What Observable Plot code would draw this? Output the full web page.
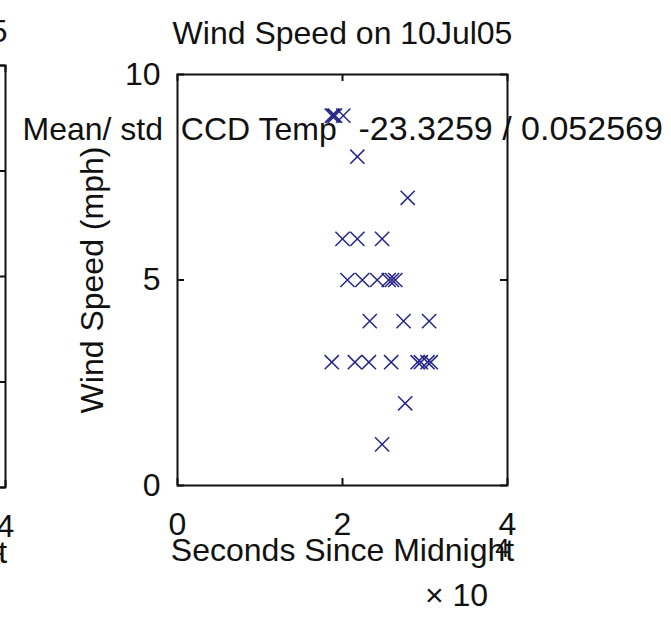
<!DOCTYPE html>
<html>
<head>
<meta charset="utf-8">
<script src="https://cdn.jsdelivr.net/npm/d3@7"></script>
<script src="https://cdn.jsdelivr.net/npm/@observablehq/plot@0.6"></script>
<style>
  html, body { margin: 0; padding: 0; background: #fff; }
  #fig { position: relative; width: 671px; height: 636px; overflow: hidden; background: #fff; }
  #fig svg { position: absolute; top: 0; }
</style>
</head>
<body>
<div id="fig"></div>
<script>
// Wind speed readings for 10 Jul 2005 (time in seconds since midnight, speed in mph)
const date = "10Jul05";
const title = `Wind Speed on ${date}`;
const xLabel = "Seconds Since Midnight";
const yLabel = "Wind Speed (mph)";
const xExponentBase = "× 10";
const xExponent = "4";
const xTicks = [0, 20000, 40000];
const yTicks = [0, 5, 10];
const neighbourYTicks = [0, 1, 2, 3, 4];

const seconds = [
  18700, 18900, 19100, 20100,
  21800,
  27900,
  20000, 21800, 24800,
  20600, 22400, 24200, 25600, 26000, 26400,
  23300, 27400, 30500,
  18700, 21500, 23200, 25900, 29100, 29500, 30300, 30700,
  27600,
  24800
];
const windMph = [
  9, 9, 9, 9,
  8,
  7,
  6, 6, 6,
  5, 5, 5, 5, 5, 5,
  4, 4, 4,
  3, 3, 3, 3, 3, 3, 3, 3,
  2,
  1
];

// CCD temperature statistics printed across the figure
const ccdTempMean = -23.3259;
const ccdTempStd = 0.052569;

const points = seconds.map((t, i) => ({t, mph: windMph[i]}));

const W = 671, H = 636;
const font = "'Liberation Sans', Arial, Helvetica, sans-serif";
const fs = 32;
const ink = "#111";
const tickLen = 7;

// One MATLAB-style subplot: boxed axes with inward ticks on all sides
function subplot({frame, yDomain, yTickValues, data, titleText, titleAnchor, labelShift = 0, extra = []}) {
  const innerW = frame.right - frame.left;
  const innerH = frame.bottom - frame.top;
  const mid = {lineAnchor: "middle", fill: ink};
  const marks = [
    Plot.axisX({ticks: xTicks, tickSize: 0, tickPadding: 27, tickFormat: d => d / 1e4, label: null}),
    Plot.axisY({ticks: yTickValues, tickSize: 0, tickPadding: 17, label: null}),
    Plot.tickX(xTicks, {x: d => d, insetBottom: innerH - tickLen, stroke: ink, strokeWidth: 2}),
    Plot.tickX(xTicks, {x: d => d, insetTop: innerH - tickLen, stroke: ink, strokeWidth: 2}),
    Plot.tickY(yTickValues, {y: d => d, insetRight: innerW - tickLen, stroke: ink, strokeWidth: 2}),
    Plot.tickY(yTickValues, {y: d => d, insetLeft: innerW - tickLen, stroke: ink, strokeWidth: 2}),
    Plot.frame({stroke: ink, strokeWidth: 2}),
    Plot.text([xLabel], {...mid, frameAnchor: "bottom", textAnchor: "middle", dx: labelShift, dy: 65}),
    Plot.text([xExponentBase], {...mid, frameAnchor: "bottom-right", textAnchor: "middle", dx: -51 + labelShift, dy: 110}),
    Plot.text([xExponent], {...mid, frameAnchor: "bottom-right", textAnchor: "middle", dx: -5 + labelShift, dy: 63, fontSize: 26}),
    titleAnchor === "end"
      ? Plot.text([titleText], {...mid, frameAnchor: "top-right", textAnchor: "end", dx: 2, dy: -34})
      : Plot.text([titleText], {...mid, frameAnchor: "top", textAnchor: "middle", dy: -41})
  ];
  if (data) {
    marks.push(Plot.dot(data, {x: "t", y: "mph", symbol: "times", r: 6.5, stroke: "#262688", strokeWidth: 1.5}));
  }
  return Plot.plot({
    width: W,
    height: H,
    marginLeft: frame.left,
    marginRight: W - frame.right,
    marginTop: frame.top,
    marginBottom: H - frame.bottom,
    style: {fontFamily: font, fontSize: fs + "px", color: ink, background: "transparent", overflow: "visible"},
    x: {domain: [0, 40000]},
    y: {domain: yDomain},
    marks: marks.concat(extra)
  });
}

const fig = document.getElementById("fig");

// Neighbouring subplot on the left; only its right edge falls inside the figure
const neighbourFrame = {left: 177, right: 507, top: 65, bottom: 487};
const neighbour = subplot({
  frame: neighbourFrame,
  yDomain: [0, 4],
  yTickValues: neighbourYTicks,
  data: null,
  titleText: date,
  titleAnchor: "end",
  labelShift: -5
});
neighbour.style.left = (5 - neighbourFrame.right) + "px";
fig.appendChild(neighbour);

// Wind speed subplot
const mainFrame = {left: 177, right: 507, top: 74, bottom: 485};
const main = subplot({
  frame: mainFrame,
  yDomain: [0, 10],
  yTickValues: yTicks,
  data: points,
  titleText: title,
  titleAnchor: "middle",
  extra: [
    Plot.text([yLabel], {frameAnchor: "left", textAnchor: "middle", lineAnchor: "middle", rotate: -90, dx: -85, fill: ink}),
    Plot.text(["Mean/ std  CCD Temp"],
      {frameAnchor: "top-left", textAnchor: "start", lineAnchor: "middle", dx: -155, dy: 55, fill: ink}),
    Plot.text([`${ccdTempMean} / ${ccdTempStd}`],
      {frameAnchor: "top-left", textAnchor: "start", lineAnchor: "middle", dx: 181, dy: 55, fontSize: 34, fill: ink})
  ]
});
main.style.left = "0px";
fig.appendChild(main);
</script>
</body>
</html>
